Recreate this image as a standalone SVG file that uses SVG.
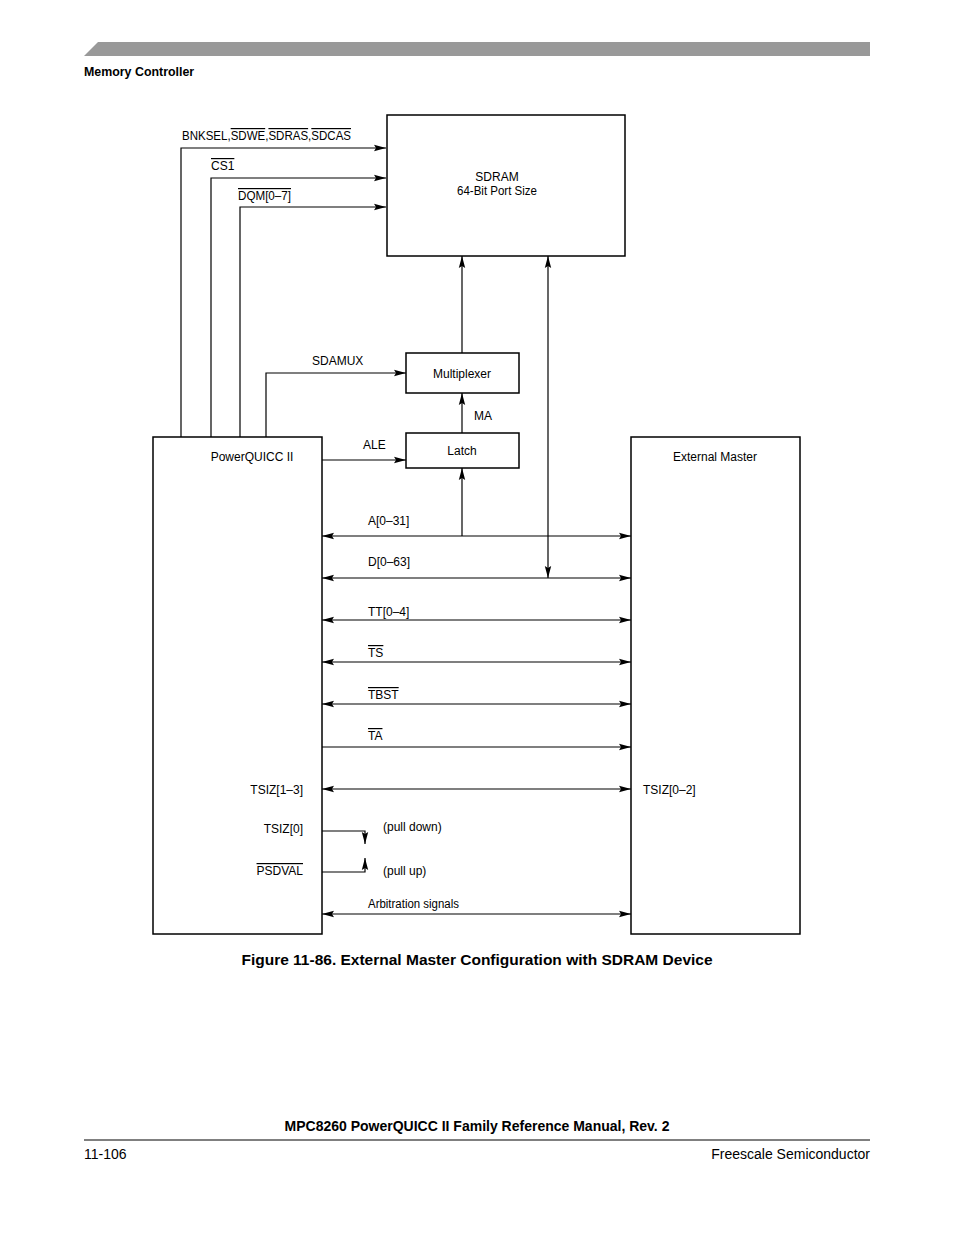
<svg xmlns="http://www.w3.org/2000/svg" width="954" height="1235" viewBox="0 0 954 1235">
<style>
text{font-family:"Liberation Sans",Arial,sans-serif;fill:#000}
.l{font-size:12px}
.b{font-weight:bold}
.ov{text-decoration:overline}
.box{fill:none;stroke:#000;stroke-width:1.5}
.w{fill:none;stroke:#000;stroke-width:1.2}
</style>
<defs>
<marker id="ah" viewBox="0 0 12 8" refX="12" refY="4" markerWidth="12" markerHeight="8" markerUnits="userSpaceOnUse" orient="auto-start-reverse">
<path d="M0,0.8 L12,4 L0,7.2 L2,4 Z" fill="#000"/>
</marker>
</defs>
<polygon points="84,56 98,42 870,42 870,56" fill="#999"/>
<text x="84" y="76" font-size="12.4" class="b">Memory Controller</text>

<g id="sdram"><rect class="box" x="387" y="115" width="238" height="141"/>
<text class="l" x="497" y="181" text-anchor="middle">SDRAM</text>
<text class="l" x="497" y="195" text-anchor="middle" textLength="80" lengthAdjust="spacingAndGlyphs">64-Bit Port Size</text></g>
<g id="mux"><rect class="box" x="406" y="353" width="113" height="40"/>
<text class="l" x="462" y="378" text-anchor="middle">Multiplexer</text></g>
<g id="latch"><rect class="box" x="406" y="433" width="113" height="35"/>
<text class="l" x="462" y="455" text-anchor="middle">Latch</text></g>
<g id="pq"><rect class="box" x="153" y="437" width="169" height="497"/>
<text class="l" x="252" y="461" text-anchor="middle">PowerQUICC II</text></g>
<g id="em"><rect class="box" x="631" y="437" width="169" height="497"/>
<text class="l" x="715" y="461" text-anchor="middle">External Master</text></g>

<g id="connectors">
<polyline class="w" points="181,437 181,148 386,148" marker-end="url(#ah)"/>
<polyline class="w" points="211,437 211,178 386,178" marker-end="url(#ah)"/>
<polyline class="w" points="240,437 240,207 386,207" marker-end="url(#ah)"/>
<polyline class="w" points="266,437 266,373 406,373" marker-end="url(#ah)"/>
<line class="w" x1="322" y1="460" x2="406" y2="460" marker-end="url(#ah)"/>
<line class="w" x1="462" y1="433" x2="462" y2="393" marker-end="url(#ah)"/>
<line class="w" x1="462" y1="353" x2="462" y2="256" marker-end="url(#ah)"/>
<line class="w" x1="548" y1="578" x2="548" y2="256" marker-start="url(#ah)" marker-end="url(#ah)"/>
<line class="w" x1="462" y1="536" x2="462" y2="468" marker-end="url(#ah)"/>
<line class="w" x1="322" y1="536" x2="631" y2="536" marker-start="url(#ah)" marker-end="url(#ah)"/>
<line class="w" x1="322" y1="578" x2="631" y2="578" marker-start="url(#ah)" marker-end="url(#ah)"/>
<line class="w" x1="322" y1="620" x2="631" y2="620" marker-start="url(#ah)" marker-end="url(#ah)"/>
<line class="w" x1="322" y1="662" x2="631" y2="662" marker-start="url(#ah)" marker-end="url(#ah)"/>
<line class="w" x1="322" y1="704" x2="631" y2="704" marker-start="url(#ah)" marker-end="url(#ah)"/>
<line class="w" x1="322" y1="747" x2="631" y2="747" marker-end="url(#ah)"/>
<line class="w" x1="322" y1="789" x2="631" y2="789" marker-start="url(#ah)" marker-end="url(#ah)"/>
<line class="w" x1="322" y1="914" x2="631" y2="914" marker-start="url(#ah)" marker-end="url(#ah)"/>
<polyline class="w" points="322,831 365,831 365,844" marker-end="url(#ah)"/>
<polyline class="w" points="322,872 365,872 365,858" marker-end="url(#ah)"/>
</g>

<g id="labels">
<text class="l" x="182" y="140" textLength="169" lengthAdjust="spacingAndGlyphs">BNKSEL,<tspan class="ov">SDWE</tspan>,<tspan class="ov">SDRAS</tspan>,<tspan class="ov">SDCAS</tspan></text>
<text class="l" x="211" y="170"><tspan class="ov">CS1</tspan></text>
<text class="l" x="238" y="200" textLength="53" lengthAdjust="spacingAndGlyphs"><tspan class="ov">DQM[0–7]</tspan></text>
<text class="l" x="312" y="365">SDAMUX</text>
<text class="l" x="363" y="449">ALE</text>
<text class="l" x="474" y="420">MA</text>
<text class="l" x="368" y="525">A[0–31]</text>
<text class="l" x="368" y="566">D[0–63]</text>
<text class="l" x="368" y="616">TT[0–4]</text>
<text class="l" x="368" y="657"><tspan class="ov">TS</tspan></text>
<text class="l" x="368" y="699"><tspan class="ov">TBST</tspan></text>
<text class="l" x="368" y="740"><tspan class="ov">TA</tspan></text>
<text class="l" x="303" y="794" text-anchor="end">TSIZ[1–3]</text>
<text class="l" x="643" y="794">TSIZ[0–2]</text>
<text class="l" x="303" y="833" text-anchor="end">TSIZ[0]</text>
<text class="l" x="303" y="875" text-anchor="end"><tspan class="ov">PSDVAL</tspan></text>
<text class="l" x="383" y="831">(pull down)</text>
<text class="l" x="383" y="875">(pull up)</text>
<text class="l" x="368" y="908" textLength="91" lengthAdjust="spacingAndGlyphs">Arbitration signals</text>
</g>

<text x="477" y="965" font-size="15.5" class="b" text-anchor="middle">Figure 11-86. External Master Configuration with SDRAM Device</text>
<text x="477" y="1131" font-size="14" class="b" text-anchor="middle">MPC8260 PowerQUICC II Family Reference Manual, Rev. 2</text>
<line x1="84" y1="1140" x2="870" y2="1140" stroke="#000" stroke-width="1"/>
<text x="84" y="1159" font-size="14">11-106</text>
<text x="870" y="1159" font-size="14" text-anchor="end">Freescale Semiconductor</text>
</svg>
